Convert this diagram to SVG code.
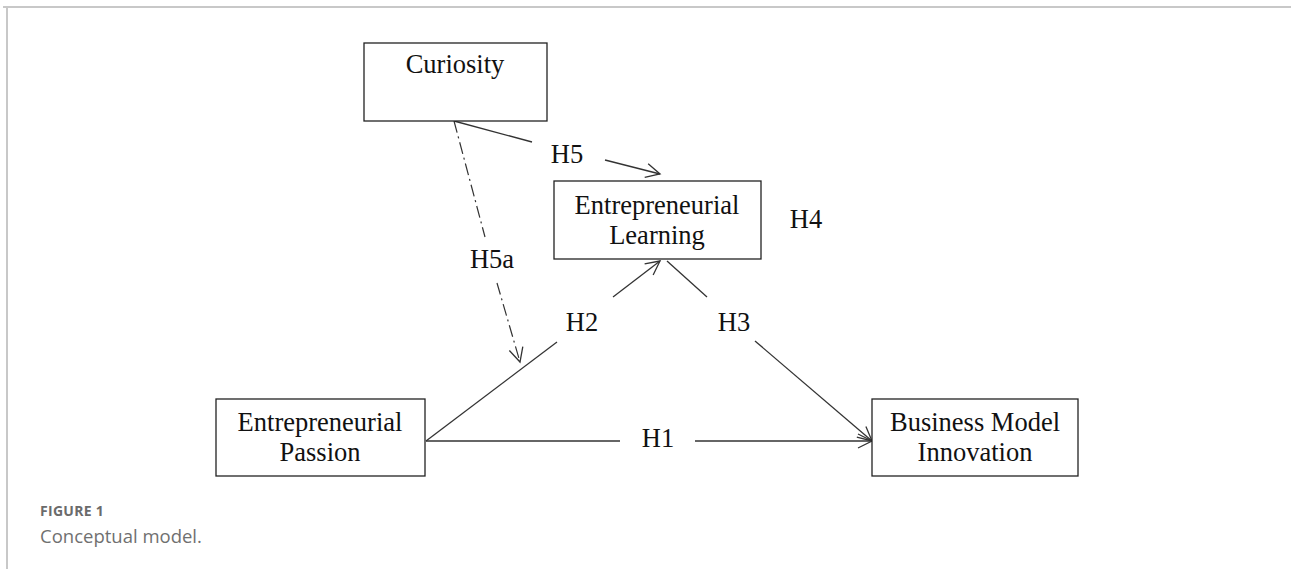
<svg xmlns="http://www.w3.org/2000/svg" width="1291" height="569" viewBox="0 0 1291 569">
<style>
.box{fill:#fff;stroke:#222;stroke-width:1.3}
.t{font-family:"Liberation Serif","Times New Roman",serif;font-size:26.5px;fill:#111;text-anchor:middle}
.ln{stroke:#333;stroke-width:1.3;fill:none}
.dd{stroke:#333;stroke-width:1.2;fill:none;stroke-dasharray:12 4 2 4}
.frame{stroke:#c8c8c8;stroke-width:2;fill:none}
</style>
<defs>
<marker id="ah" markerWidth="20" markerHeight="20" refX="16" refY="10" orient="auto" markerUnits="userSpaceOnUse">
<path d="M2,3 L16,10 L2,17" fill="none" stroke="#333" stroke-width="1.3"/>
</marker>
</defs>
<rect width="1291" height="569" fill="#fff"/>
<path class="frame" d="M3,7 H1291 M7,7 V569"/>
<g id="connectors">
<path class="ln" d="M454,121 L532,142"/>
<path class="ln" d="M605,160 L660,174" marker-end="url(#ah)"/>
<path class="dd" d="M454,121 L485,237"/>
<path class="dd" d="M497,283 L520,362" marker-end="url(#ah)"/>
<path class="ln" d="M426,441 L557,342"/>
<path class="ln" d="M613,297 L660,261" marker-end="url(#ah)"/>
<path class="ln" d="M667,261 L707,297"/>
<path class="ln" d="M755,341 L872,441" marker-end="url(#ah)"/>
<path class="ln" d="M426,441 L620,441"/>
<path class="ln" d="M695,441 L872,441" marker-end="url(#ah)"/>
</g>
<g id="labels">
<text class="t" x="567" y="163">H5</text>
<text class="t" x="806" y="228">H4</text>
<text class="t" x="492" y="268">H5a</text>
<text class="t" x="582" y="331">H2</text>
<text class="t" x="734" y="331">H3</text>
<text class="t" x="658" y="447">H1</text>
</g>
<g id="curiosity">
<rect class="box" x="364" y="43" width="183" height="78"/>
<text class="t" x="455" y="73">Curiosity</text>
</g>
<g id="learning">
<rect class="box" x="554" y="181" width="207" height="78"/>
<text class="t" x="657" y="214">Entrepreneurial</text>
<text class="t" x="657" y="244">Learning</text>
</g>
<g id="passion">
<rect class="box" x="216" y="399" width="209" height="77"/>
<text class="t" x="320" y="431">Entrepreneurial</text>
<text class="t" x="320" y="461">Passion</text>
</g>
<g id="bmi">
<rect class="box" x="872" y="399" width="206" height="77"/>
<text class="t" x="975" y="431">Business Model</text>
<text class="t" x="975" y="461">Innovation</text>
</g>
<g id="caption">
<text x="40" y="516" font-family="'Open Sans',Lato,sans-serif" font-size="14px" font-weight="bold" letter-spacing="0.3" fill="#6b6b6b">FIGURE 1</text>
<text x="40" y="543" font-family="'Open Sans',Lato,sans-serif" font-size="18.5px" fill="#707070">Conceptual model.</text>
</g>
</svg>
